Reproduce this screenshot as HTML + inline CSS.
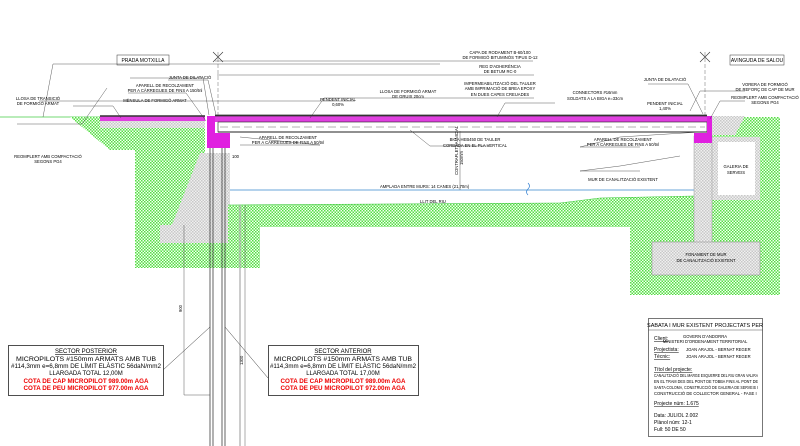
<!DOCTYPE html>
<html><head><meta charset="utf-8"><style>
html,body{margin:0;padding:0;background:#fff}
svg{display:block}
text{font-family:"Liberation Sans",sans-serif;fill:#000}
.s{font-size:4.2px}
.m{font-size:6px}
</style></head><body>
<svg width="800" height="446" viewBox="0 0 800 446" xmlns="http://www.w3.org/2000/svg">
<defs>
<pattern id="g" width="3" height="3" patternUnits="userSpaceOnUse">
<rect width="3" height="3" fill="#f4fff2"/>
<rect width="1.5" height="1.5" fill="#55dd44"/><rect x="1.5" y="1.5" width="1.5" height="1.5" fill="#55dd44"/>
</pattern>
<pattern id="gr" width="3" height="3" patternUnits="userSpaceOnUse">
<rect width="3" height="3" fill="#f0f0f0"/>
<rect width="1.5" height="1.5" fill="#c8c8c8"/><rect x="1.5" y="1.5" width="1.5" height="1.5" fill="#c8c8c8"/>
</pattern>
</defs>

<line x1="0" y1="117" x2="100" y2="117" stroke="#4c4" stroke-width="0.8"/>
<!-- left green -->
<polygon points="70,117 100,117 100,128 205,128 205,153 228,153 228,268 135,268 135,150 110,150" fill="url(#g)"/>
<polygon points="100,121 205,121 205,128 100,128" fill="url(#gr)"/>
<polygon points="200,153 230,153 230,225 240,225 240,243 160,243 160,225 172,225" fill="url(#gr)"/>
<!-- river green band -->
<polygon points="228,205 560,203 600,198 694,196 694,227 260,227 260,268 228,268" fill="url(#g)"/>
<!-- right green -->
<polygon points="630,200 694,196 694,136 712,136 712,117 780,117 780,295 630,295" fill="url(#g)"/>
<line x1="228" y1="205" x2="560" y2="203" stroke="#4c4" stroke-width="0.6"/>
<path d="M560 203 L600 198 L694 196" stroke="#4c4" stroke-width="0.6" fill="none"/>
<rect x="260" y="227" width="370" height="70" fill="#fff"/>
<!-- right gravel -->
<polygon points="712,116 745,116 735,135 712,135" fill="url(#gr)"/>
<!-- gallery -->
<rect x="712" y="137" width="48" height="63" fill="url(#gr)"/>
<rect x="718" y="142" width="37" height="53" fill="#fff"/>
<text class="s" x="736" y="168" text-anchor="middle">GALERIA DE</text>
<text class="s" x="736" y="174" text-anchor="middle">SERVEIS</text>
<rect x="694" y="136" width="18" height="110" fill="url(#gr)" stroke="#888" stroke-width="0.4"/>
<rect x="652" y="242" width="108" height="33" fill="url(#gr)" stroke="#888" stroke-width="0.5"/>
<text class="s" x="706" y="256" text-anchor="middle">FONAMENT DE MUR</text>
<text class="s" x="706" y="262" text-anchor="middle">DE CANALITZACIÓ EXISTENT</text>

<line x1="230" y1="190" x2="694" y2="190" stroke="#6aa6d8" stroke-width="0.9"/>
<path d="M528 183 q3 3 0 6 q-3 3 0 6" stroke="#2a7ad0" fill="none" stroke-width="0.7"/>

<!-- deck -->
<rect x="100" y="116" width="105" height="5" fill="#e040e0"/>
<line x1="100" y1="116" x2="205" y2="116" stroke="#333" stroke-width="1.5"/>
<rect x="215" y="116" width="492" height="6" fill="#e040e0"/>
<line x1="215" y1="115.5" x2="707" y2="115.5" stroke="#333" stroke-width="1.8"/>
<rect x="218" y="122" width="489" height="10" fill="#fff" stroke="#222" stroke-width="0.6"/>
<line x1="220" y1="127" x2="705" y2="127" stroke="#666" stroke-width="0.5" stroke-dasharray="8,4"/>
<line x1="218" y1="132" x2="707" y2="132" stroke="#222" stroke-width="1"/>
<polygon points="207,116 215,116 215,133 230,133 230,148 207,148" fill="#e020e0"/>
<polygon points="707,116 712,116 712,143 694,143 694,133 707,133" fill="#e020e0"/>

<g stroke="#222" stroke-width="0.7">
<line x1="210" y1="148" x2="210" y2="446"/><line x1="213" y1="148" x2="213" y2="446"/>
<line x1="222" y1="148" x2="222" y2="446"/><line x1="225" y1="148" x2="225" y2="446"/>
</g>
<line x1="240" y1="205" x2="240" y2="446" stroke="#aaa" stroke-width="1.2"/>
<line x1="184" y1="225" x2="184" y2="395" stroke="#333" stroke-width="0.4"/>
<line x1="184" y1="395" x2="210" y2="395" stroke="#333" stroke-width="0.4"/>
<text class="s" transform="translate(182,312) rotate(-90)">900</text>
<line x1="245" y1="205" x2="245" y2="446" stroke="#333" stroke-width="0.4"/>
<text class="s" transform="translate(243,365) rotate(-90)">1300</text>
<text class="s" x="232" y="158">100</text>
<line x1="460" y1="131" x2="460" y2="190" stroke="#333" stroke-width="0.4"/>
<text class="s" transform="translate(458,175) rotate(-90)">CONTRAFLETXA INICIAL</text>
<text class="s" transform="translate(463,165) rotate(-90)">150mm</text>

<line x1="218" y1="52" x2="218" y2="115" stroke="#444" stroke-width="0.4" stroke-dasharray="4,2"/>
<path d="M213 52 l10 10 M223 52 l-10 10" stroke="#333" stroke-width="0.6"/>
<line x1="705" y1="52" x2="705" y2="115" stroke="#444" stroke-width="0.4" stroke-dasharray="4,2"/>
<path d="M700 52 l10 10 M710 52 l-10 10" stroke="#333" stroke-width="0.6"/>

<rect x="117" y="55" width="52" height="10" fill="#fff" stroke="#333" stroke-width="0.5"/>
<text class="s" x="143" y="62" text-anchor="middle" style="font-size:5px">PRADA MOTXILLA</text>
<rect x="730" y="55" width="54" height="10" fill="#fff" stroke="#333" stroke-width="0.5"/>
<text class="s" x="757" y="62" text-anchor="middle" style="font-size:5px">AVINGUDA DE SALOU</text>

<g stroke="#333" stroke-width="0.4" fill="none">
<path d="M73 106 h40 l8 12"/><path d="M128 93 h58 l20 28"/><path d="M130 78 h73 l6 37"/>
<path d="M168 80 h40 l8 35"/><path d="M17 124 h65 l25 -36"/>
<path d="M240 145 h80 l-80 -8"/><path d="M440 64 h-387 l-10 53"/>
<path d="M533 61 h-318"/><path d="M534 75 h-317"/><path d="M534 98 h-210 l-14 20"/>
<path d="M355 101 h-316"/><path d="M555 103 h-50 l-8 14"/><path d="M490 146 h-60 l-20 -16"/>
<path d="M640 147 h-60 l40 -10 l80 -5"/><path d="M640 171 h-60 l40 -5 l60 -10"/>
<path d="M648 84 h40 l15 30"/><path d="M745 91 h-45 l-10 20"/><path d="M745 101 h-25 l-10 18"/>
</g>
<text class="s" x="38" y="100" text-anchor="middle">LLOSA DE TRANSICIÓ</text>
<text class="s" x="38" y="105" text-anchor="middle">DE FORMIGÓ ARMAT</text>
<text class="s" x="155" y="102" text-anchor="middle">MÈNSULA DE FORMIGÓ ARMAT</text>
<text class="s" x="165" y="87" text-anchor="middle">APARELL DE RECOLZAMENT</text>
<text class="s" x="165" y="92" text-anchor="middle">PER A CÀRREGUES DE FINS A 150/tnl</text>
<text class="s" x="190" y="79" text-anchor="middle">JUNTA DE DILATACIÓ</text>
<text class="s" x="48" y="158" text-anchor="middle">REOMPLERT AMB COMPACTACIÓ</text>
<text class="s" x="48" y="163" text-anchor="middle">SEGONS PG4</text>
<text class="s" x="288" y="139" text-anchor="middle">APARELL DE RECOLZAMENT</text>
<text class="s" x="288" y="144" text-anchor="middle">PER A CÀRREGUES DE FINS A 50/tnl</text>
<text class="s" x="338" y="101" text-anchor="middle">PENDENT INICIAL</text>
<text class="s" x="338" y="106" text-anchor="middle">0,60%</text>
<text class="s" x="408" y="93" text-anchor="middle">LLOSA DE FORMIGÓ ARMAT</text>
<text class="s" x="408" y="98" text-anchor="middle">DE GRUIX 20cm</text>
<text class="s" x="500" y="54" text-anchor="middle">CAPA DE RODAMENT B-60/100</text>
<text class="s" x="500" y="59" text-anchor="middle">DE FORMIGÓ BITUMINÓS TIPUS D-12</text>
<text class="s" x="500" y="68" text-anchor="middle">REG D'ADHERÈNCIA</text>
<text class="s" x="500" y="73" text-anchor="middle">DE BETUM RC-0</text>
<text class="s" x="500" y="85" text-anchor="middle">IMPERMEABILITZACIÓ DEL TAULER</text>
<text class="s" x="500" y="90" text-anchor="middle">AMB IMPRIMACIÓ DE BREA EPOXY</text>
<text class="s" x="500" y="96" text-anchor="middle">EN DUES CAPES CREUADES</text>
<text class="s" x="595" y="94" text-anchor="middle">CONNECTORS #16mm</text>
<text class="s" x="595" y="100" text-anchor="middle">SOLDATS A LA BIGA e=33cm</text>
<text class="s" x="665" y="105" text-anchor="middle">PENDENT INICIAL</text>
<text class="s" x="665" y="110" text-anchor="middle">1,40%</text>
<text class="s" x="475" y="141" text-anchor="middle">BIGA HEB450 DE TAULER</text>
<text class="s" x="475" y="147" text-anchor="middle">CORBADA EN EL PLA VERTICAL</text>
<text class="s" x="623" y="141" text-anchor="middle">APARELL DE RECOLZAMENT</text>
<text class="s" x="623" y="146" text-anchor="middle">PER A CÀRREGUES DE FINS A 50/tnl</text>
<text class="s" x="623" y="181" text-anchor="middle">MUR DE CANALITZACIÓ EXISTENT</text>
<text class="s" x="665" y="81" text-anchor="middle">JUNTA DE DILATACIÓ</text>
<text class="s" x="765" y="86" text-anchor="middle">VORERA DE FORMIGÓ</text>
<text class="s" x="765" y="91" text-anchor="middle">DE REFORÇ DE CAP DE MUR</text>
<text class="s" x="765" y="99" text-anchor="middle">REOMPLERT AMB COMPACTACIÓ</text>
<text class="s" x="765" y="104" text-anchor="middle">SEGONS PG4</text>
<text class="s" x="380" y="188">AMPLADA ENTRE MURS: 14 CANES (21,70m)</text>
<text class="s" x="420" y="203">LLIT DEL RIU</text>

<line x1="163" y1="370" x2="210" y2="327" stroke="#333" stroke-width="0.5"/>
<line x1="268" y1="378" x2="225" y2="327" stroke="#333" stroke-width="0.5"/>
<rect x="8.5" y="345.5" width="155" height="50" fill="#fff" stroke="#222" stroke-width="0.8"/>
<text class="m" x="86" y="353" text-anchor="middle" text-decoration="underline">SECTOR POSTERIOR</text>
<text class="m" x="86" y="361" text-anchor="middle" textLength="140" lengthAdjust="spacingAndGlyphs">MICROPILOTS #150mm ARMATS AMB TUB</text>
<text class="m" x="86" y="368" text-anchor="middle" textLength="150" lengthAdjust="spacingAndGlyphs">#114,3mm e=6,8mm DE LÍMIT ELÀSTIC 56daN/mm2</text>
<text class="m" x="86" y="375" text-anchor="middle">LLARGADA TOTAL 12,00M</text>
<text class="m" x="86" y="383" text-anchor="middle" textLength="125" lengthAdjust="spacingAndGlyphs" style="fill:#e00;font-weight:bold">COTA DE CAP MICROPILOT 989.00m AGA</text>
<text class="m" x="86" y="390" text-anchor="middle" textLength="125" lengthAdjust="spacingAndGlyphs" style="fill:#e00;font-weight:bold">COTA DE PEU MICROPILOT 977.00m AGA</text>
<rect x="268.5" y="345.5" width="150" height="50" fill="#fff" stroke="#222" stroke-width="0.8"/>
<text class="m" x="343" y="353" text-anchor="middle" text-decoration="underline">SECTOR ANTERIOR</text>
<text class="m" x="343" y="361" text-anchor="middle" textLength="138" lengthAdjust="spacingAndGlyphs">MICROPILOTS #150mm ARMATS AMB TUB</text>
<text class="m" x="343" y="368" text-anchor="middle" textLength="146" lengthAdjust="spacingAndGlyphs">#114,3mm e=6,8mm DE LÍMIT ELÀSTIC 56daN/mm2</text>
<text class="m" x="343" y="375" text-anchor="middle">LLARGADA TOTAL 17,00M</text>
<text class="m" x="343" y="383" text-anchor="middle" textLength="125" lengthAdjust="spacingAndGlyphs" style="fill:#e00;font-weight:bold">COTA DE CAP MICROPILOT 989.00m AGA</text>
<text class="m" x="343" y="390" text-anchor="middle" textLength="125" lengthAdjust="spacingAndGlyphs" style="fill:#e00;font-weight:bold">COTA DE PEU MICROPILOT 972.00m AGA</text>

<rect x="648.5" y="318.5" width="114" height="118" fill="#fff" stroke="#555" stroke-width="0.8"/>
<line x1="648" y1="330" x2="763" y2="330" stroke="#555" stroke-width="0.6"/>
<text x="705" y="327" text-anchor="middle" style="font-size:5.5px">SABATA I MUR EXISTENT PROJECTATS PER</text>
<text class="s" x="654" y="340" style="font-size:5px" text-decoration="underline">Client:</text>
<text class="s" x="705" y="338" text-anchor="middle">GOVERN D'ANDORRA</text>
<text class="s" x="705" y="343" text-anchor="middle">MINISTERI D'ORDENAMENT TERRITORIAL</text>
<text class="s" x="654" y="351" style="font-size:5px" text-decoration="underline">Projectista:</text>
<text class="s" x="686" y="351">JOAN ARAJOL - BERNAT REGER</text>
<text class="s" x="654" y="358" style="font-size:5px" text-decoration="underline">Tècnic:</text>
<text class="s" x="686" y="358">JOAN ARAJOL - BERNAT REGER</text>
<text class="s" x="654" y="371" style="font-size:5px" text-decoration="underline">Títol del projecte:</text>
<text class="s" x="654" y="377" textLength="104" lengthAdjust="spacingAndGlyphs">CANALITZACIÓ DEL MARGE ESQUERRE DEL RIU GRAN VALIRA</text>
<text class="s" x="654" y="383" textLength="104" lengthAdjust="spacingAndGlyphs">EN EL TRAM DES DEL PONT DE TOBBA FINS AL PONT DE</text>
<text class="s" x="654" y="389" textLength="104" lengthAdjust="spacingAndGlyphs">SANTA COLOMA, CONSTRUCCIÓ DE GALERIA DE SERVEIS I</text>
<text class="s" x="654" y="395">CONSTRUCCIÓ DE COLLECTOR GENERAL - FASE I</text>
<text class="s" x="654" y="405" style="font-size:5px" text-decoration="underline">Projecte núm:  1.675</text>
<text class="s" x="654" y="417" style="font-size:5px">Data:  JULIOL 2.002</text>
<text class="s" x="654" y="424" style="font-size:5px">Plànol núm:  12-1</text>
<text class="s" x="654" y="431" style="font-size:5px">Full:  50 DE 50</text>
</svg>
</body></html>
